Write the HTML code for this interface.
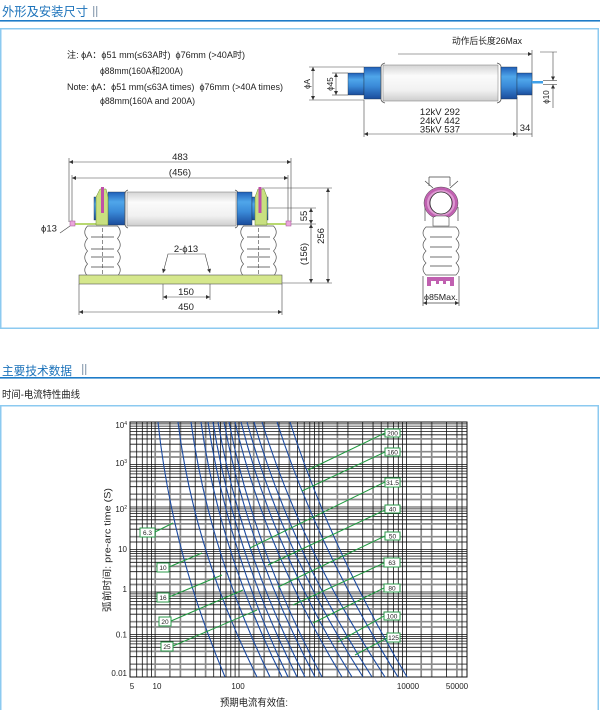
<!DOCTYPE html>
<html><head><meta charset="utf-8"><style>
html,body{margin:0;padding:0;background:#fff;width:600px;height:710px;overflow:hidden}
svg{display:block}
text{font-family:"Liberation Sans","Noto Sans CJK SC",sans-serif;fill:#222}
</style></head><body>
<svg width="600" height="710" viewBox="0 0 600 710" xmlns="http://www.w3.org/2000/svg">
<defs>
<marker id="a" viewBox="0 0 10 10" refX="10" refY="5" markerWidth="7" markerHeight="4" orient="auto-start-reverse" markerUnits="userSpaceOnUse"><path d="M0,0L10,5L0,10z" fill="#333"/></marker>
<linearGradient id="bl" x1="0" y1="0" x2="0" y2="1"><stop offset="0" stop-color="#1f5fb8"/><stop offset=".3" stop-color="#4fa6ea"/><stop offset=".6" stop-color="#3a8ad8"/><stop offset="1" stop-color="#1a4c9c"/></linearGradient>
<linearGradient id="wh" x1="0" y1="0" x2="0" y2="1"><stop offset="0" stop-color="#d4d4d4"/><stop offset=".3" stop-color="#fbfbfb"/><stop offset=".7" stop-color="#f1f1f1"/><stop offset="1" stop-color="#cdcdcd"/></linearGradient>
</defs>

<!-- Header 1 -->
<text x="2" y="16" font-size="12.5" textLength="86" lengthAdjust="spacingAndGlyphs" style="fill:#1b72ba">外形及安装尺寸</text>
<rect x="93" y="6" width="1.3" height="11" fill="#9aaabb"/><rect x="96" y="6" width="1.3" height="11" fill="#9aaabb"/>
<rect x="0" y="20" width="600" height="1.6" fill="#1e7cc8"/>
<rect x="0.75" y="28.75" width="597.5" height="299.5" fill="none" stroke="#8ccaf0" stroke-width="1.5"/>

<!-- Notes -->
<text x="67" y="58" font-size="9" textLength="178" lengthAdjust="spacingAndGlyphs">注: ϕA：ϕ51 mm(≤63A时)&#160;&#160;ϕ76mm (&gt;40A时)</text>
<text x="100" y="74" font-size="9" textLength="83" lengthAdjust="spacingAndGlyphs">ϕ88mm(160A和200A)</text>
<text x="67" y="90" font-size="9" textLength="216" lengthAdjust="spacingAndGlyphs">Note: ϕA：ϕ51 mm(≤63A times)&#160;&#160;ϕ76mm (&gt;40A times)</text>
<text x="100" y="104" font-size="9" textLength="95" lengthAdjust="spacingAndGlyphs">ϕ88mm(160A and 200A)</text>

<!-- Right fuse drawing -->
<g stroke="#444" stroke-width="0.6" fill="none">
<line x1="398" y1="54" x2="532" y2="54" marker-end="url(#a)"/>
<line x1="532" y1="50" x2="532" y2="137"/>
<line x1="364" y1="100" x2="364" y2="137"/>
<line x1="517" y1="97" x2="517" y2="137"/>
<line x1="364" y1="134" x2="517" y2="134" marker-start="url(#a)" marker-end="url(#a)"/>
<line x1="517" y1="134" x2="532" y2="134"/>
<line x1="309" y1="67" x2="364" y2="67"/><line x1="309" y1="100" x2="364" y2="100"/>
<line x1="313" y1="67" x2="313" y2="100" marker-start="url(#a)" marker-end="url(#a)"/>
<line x1="332" y1="73" x2="348" y2="73"/><line x1="332" y1="95" x2="348" y2="95"/>
<line x1="336" y1="73" x2="336" y2="95" marker-start="url(#a)" marker-end="url(#a)"/>
<line x1="543" y1="80.5" x2="557" y2="80.5"/><line x1="543" y1="84.5" x2="557" y2="84.5"/>
<line x1="540" y1="52" x2="557" y2="52"/>
<line x1="553" y1="52" x2="553" y2="80.5" marker-end="url(#a)"/>
<line x1="553" y1="108" x2="553" y2="84.5" marker-end="url(#a)"/>
</g>
<text x="487" y="44" font-size="9" text-anchor="middle" textLength="70" lengthAdjust="spacingAndGlyphs">动作后长度26Max</text>
<rect x="348" y="73" width="16" height="22" fill="url(#bl)" stroke="#234" stroke-width="0.4"/>
<rect x="364" y="67" width="17" height="32" fill="url(#bl)" stroke="#234" stroke-width="0.4"/>
<rect x="383" y="65" width="115" height="36" fill="url(#wh)" stroke="#777" stroke-width="0.5"/>
<path d="M385 63Q381 64 381 67V99Q381 102 385 103M497 63Q501 64 501 67V99Q501 102 497 103" fill="none" stroke="#555" stroke-width="0.8"/>
<rect x="501" y="67" width="16" height="32" fill="url(#bl)" stroke="#234" stroke-width="0.4"/>
<rect x="517" y="73" width="15" height="22" fill="url(#bl)" stroke="#234" stroke-width="0.4"/>
<rect x="532" y="81" width="11" height="2.5" fill="#3fa0e8"/>
<text transform="translate(310,84) rotate(-90)" font-size="8" text-anchor="middle">ϕA</text>
<text transform="translate(333,84) rotate(-90)" font-size="8" text-anchor="middle">ϕ45</text>
<text transform="translate(549,97) rotate(-90)" font-size="8" text-anchor="middle">ϕ10</text>
<text x="440" y="115" font-size="9.5" text-anchor="middle">12kV 292</text>
<text x="440" y="124" font-size="9.5" text-anchor="middle">24kV 442</text>
<text x="440" y="132.5" font-size="9.5" text-anchor="middle">35kV 537</text>
<text x="525" y="131" font-size="9.5" text-anchor="middle">34</text>

<!-- Middle drawing -->
<g stroke="#444" stroke-width="0.6" fill="none">
<line x1="69" y1="162" x2="291" y2="162" marker-start="url(#a)" marker-end="url(#a)"/>
<line x1="72" y1="178" x2="288" y2="178" marker-start="url(#a)" marker-end="url(#a)"/>
<line x1="69" y1="158" x2="69" y2="222"/><line x1="291" y1="158" x2="291" y2="222"/>
<line x1="72" y1="175" x2="72" y2="222"/><line x1="288" y1="175" x2="288" y2="222"/>
<line x1="262" y1="188" x2="332" y2="188"/>
<line x1="268" y1="208" x2="316" y2="208"/>
<line x1="291" y1="224" x2="316" y2="224"/>
<line x1="282" y1="283" x2="332" y2="283"/>
<line x1="311" y1="208" x2="311" y2="224" marker-start="url(#a)" marker-end="url(#a)"/>
<line x1="311" y1="224" x2="311" y2="283" marker-start="url(#a)" marker-end="url(#a)"/>
<line x1="328" y1="188" x2="328" y2="283" marker-start="url(#a)" marker-end="url(#a)"/>
<path d="M163 273L168 254H205L210 273" marker-start="url(#a)" marker-end="url(#a)"/>
<line x1="163" y1="275" x2="163" y2="300"/><line x1="210" y1="275" x2="210" y2="300"/>
<line x1="163" y1="297" x2="210" y2="297" marker-start="url(#a)" marker-end="url(#a)"/>
<line x1="79" y1="284" x2="79" y2="315"/><line x1="282" y1="284" x2="282" y2="315"/>
<line x1="79" y1="312" x2="282" y2="312" marker-start="url(#a)" marker-end="url(#a)"/>
<path d="M60 233L70 226"/>
</g>
<text x="180" y="160" font-size="9.5" text-anchor="middle">483</text>
<text x="180" y="175.5" font-size="9.5" text-anchor="middle">(456)</text>
<text x="41" y="231.5" font-size="9.5">ϕ13</text>
<text x="186" y="252" font-size="9.5" text-anchor="middle">2-ϕ13</text>
<text x="186" y="295" font-size="9.5" text-anchor="middle">150</text>
<text x="186" y="310" font-size="9.5" text-anchor="middle">450</text>
<text transform="translate(307,216) rotate(-90)" font-size="9.5" text-anchor="middle">55</text>
<text transform="translate(307,254) rotate(-90)" font-size="9.5" text-anchor="middle">(156)</text>
<text transform="translate(324,236) rotate(-90)" font-size="9.5" text-anchor="middle">256</text>

<!-- mounting bars -->
<rect x="70" y="223" width="36" height="2" fill="#b8d870"/>
<rect x="256" y="223" width="35" height="2" fill="#b8d870"/>
<rect x="70" y="221" width="5" height="5" fill="#eaa6dc" stroke="#a05090" stroke-width="0.5"/>
<rect x="286" y="221" width="5" height="5" fill="#eaa6dc" stroke="#a05090" stroke-width="0.5"/>

<!-- insulators -->
<g fill="#fff" stroke="#555" stroke-width="0.7">
<path d="M87.5 226Q82 232 87.5 238.5Q82 245 87.5 251Q82 257.5 87.5 264Q82 270 87.5 276H117.5Q123 270 117.5 264Q123 257.5 117.5 251Q123 245 117.5 238.5Q123 232 117.5 226Z"/>
<path d="M243.5 226Q238 232 243.5 238.5Q238 245 243.5 251Q238 257.5 243.5 264Q238 270 243.5 276H273.5Q279 270 273.5 264Q279 257.5 273.5 251Q279 245 273.5 238.5Q279 232 273.5 226Z"/>
</g>
<g stroke="#444" stroke-width="0.8">
<path d="M91 237H114M91 249H114M91 257H114M91 267H114M247 237H270M247 249H270M247 257H270M247 267H270"/>
<path d="M102.5 228V276M258.5 228V276" stroke-dasharray="4 2" stroke-width="0.6"/>
</g>
<rect x="79" y="275" width="203" height="9" fill="#d5e78c" stroke="#555" stroke-width="0.6"/>

<!-- middle fuse -->
<rect x="94" y="197" width="14" height="23" fill="url(#bl)" stroke="#234" stroke-width="0.4"/>
<rect x="108" y="192" width="17" height="33" fill="url(#bl)" stroke="#234" stroke-width="0.4"/>
<rect x="127" y="192" width="109" height="34" fill="url(#wh)" stroke="#777" stroke-width="0.5"/>
<path d="M128 190Q125 191 125 194V224Q125 227 128 228M235 190Q238 191 238 194V224Q238 227 235 228" fill="none" stroke="#555" stroke-width="0.8"/>
<rect x="237" y="192" width="15" height="33" fill="url(#bl)" stroke="#234" stroke-width="0.4"/>
<rect x="252" y="197" width="16" height="23" fill="url(#bl)" stroke="#234" stroke-width="0.4"/>
<path d="M96 225V197L100 189H106L108 197V225Z" fill="#c8e080" stroke="#6a8a30" stroke-width="0.5"/>
<path d="M255 225V197L258 189H264L267 197V225Z" fill="#c8e080" stroke="#6a8a30" stroke-width="0.5"/>
<rect x="101" y="187" width="3" height="26" fill="#c050a8"/>
<rect x="258.5" y="187" width="3" height="26" fill="#c050a8"/>

<!-- right small drawing -->
<g stroke="#444" stroke-width="0.7" fill="none">
<path d="M429 177H450M429 177V186M450 177V186M425 181L433 188M458 181L450 188M425 207V221M458 207V221"/>
<line x1="423" y1="276" x2="423" y2="306"/><line x1="459" y1="276" x2="459" y2="306"/>
<line x1="423" y1="303" x2="459" y2="303" marker-start="url(#a)" marker-end="url(#a)"/>
</g>
<ellipse cx="441" cy="203" rx="17" ry="16" fill="#c060b0" stroke="#555" stroke-width="0.5"/>
<ellipse cx="441" cy="203" rx="13" ry="12" fill="none" stroke="#dd9ad2" stroke-width="2"/>
<circle cx="441" cy="203" r="11" fill="#fff" stroke="#333" stroke-width="0.8"/>
<path d="M433 218Q433 217 436 216H446Q449 217 449 218V226H433Z" fill="#fff" stroke="#444" stroke-width="0.6"/>
<path d="M426 227Q420 233 426 239Q420 245 426 251Q420 257 426 263Q420 269 426 275H456Q462 269 456 263Q462 257 456 251Q462 245 456 239Q462 233 456 227Z" fill="#fff" stroke="#555" stroke-width="0.7"/>
<path d="M430 237H452M430 247H452M430 257H452M430 266H452" stroke="#444" stroke-width="0.8"/>
<path d="M427 277H454V286H450V281H446V284H443V281H439V284H436V281H431V286H427Z" fill="#c060b0"/>
<text x="441" y="300" font-size="8.5" text-anchor="middle" textLength="34" lengthAdjust="spacingAndGlyphs">ϕ85Max.</text>

<!-- Header 2 -->
<text x="2" y="375" font-size="12" textLength="70" lengthAdjust="spacingAndGlyphs" style="fill:#1b72ba">主要技术数据</text>
<rect x="82" y="364" width="1.3" height="11" fill="#9aaabb"/><rect x="85" y="364" width="1.3" height="11" fill="#9aaabb"/>
<rect x="0" y="377" width="600" height="1.6" fill="#1e7cc8"/>
<text x="2" y="398" font-size="10" textLength="78" lengthAdjust="spacingAndGlyphs">时间-电流特性曲线</text>
<rect x="0.75" y="405.75" width="597.5" height="320" fill="none" stroke="#8ccaf0" stroke-width="1.5"/>

<!-- Chart grid -->
<g fill="none">
<path stroke="#8a8a8a" stroke-width="1.7" d="M155.2 422V677M169.9 422V677M180.4 422V677M205.6 422V677M253.7 422V677M264.2 422V677M289.4 422V677M337.4 422V677M347.9 422V677M373.1 422V677M421.2 422V677M431.7 422V677M456.9 422V677
M130 669.5H467M130 664.2H467M130 651.4H467M130 627H467M130 621.7H467M130 608.9H467M130 584.5H467M130 579.2H467M130 566.4H467M130 542H467M130 536.7H467M130 523.9H467M130 499.5H467M130 494.2H467M130 481.4H467M130 457H467M130 451.7H467M130 438.9H467"/>
<path stroke="#111" stroke-width="0.8" d="M136.7 422V677M142.3 422V677M147.1 422V677M151.4 422V677M195.2 422V677M213.7 422V677M220.4 422V677M226 422V677M230.8 422V677M235.1 422V677M239 422V677M279 422V677M297.5 422V677M304.2 422V677M309.8 422V677M314.6 422V677M318.9 422V677M322.7 422V677M362.7 422V677M381.2 422V677M387.9 422V677M393.5 422V677M398.3 422V677M402.6 422V677M406.5 422V677M446.5 422V677M462 422V677
M130 656.7H467M130 647.3H467M130 643.9H467M130 641.1H467M130 638.6H467M130 636.4H467M130 634.5H467
M130 614.2H467M130 604.8H467M130 601.4H467M130 598.6H467M130 596.1H467M130 593.9H467M130 592H467
M130 571.7H467M130 562.3H467M130 558.9H467M130 556.1H467M130 553.6H467M130 551.4H467M130 549.5H467
M130 529.2H467M130 519.8H467M130 516.4H467M130 513.6H467M130 511.1H467M130 508.9H467M130 507H467
M130 486.7H467M130 477.3H467M130 473.9H467M130 471.1H467M130 468.6H467M130 466.4H467M130 464.5H467
M130 444.2H467M130 434.8H467M130 431.4H467M130 428.6H467M130 426.1H467M130 423.9H467"/>
<rect x="130" y="422" width="337" height="255" stroke="#111" stroke-width="1"/>
</g>

<!-- Blue curves -->
<g fill="none" stroke="#1b4aa0" stroke-width="1.1">
<path d="M158 422Q171.4 549.5 225 677"/>
<path d="M178 422Q193.8 549.5 257 677"/>
<path d="M191 422Q208.4 549.5 270 677"/>
<path d="M201 422Q218.8 549.5 282 677"/>
<path d="M208 422Q227.2 549.5 288 677"/>
<path d="M213 422Q233.2 549.5 297 677"/>
<path d="M218 422Q239.8 549.5 305 677"/>
<path d="M224 422Q247.7 549.5 315 677"/>
<path d="M229 422Q254.1 549.5 322 677"/>
<path d="M235 422Q265 549.5 342 677"/>
<path d="M241 422Q273.2 549.5 352 677"/>
<path d="M247 422Q281.8 549.5 363 677"/>
<path d="M254 422Q290.6 549.5 372 677"/>
<path d="M262 422Q301.4 549.5 385 677"/>
<path d="M277 422Q318.1 549.5 398 677"/>
<path d="M290 422Q331 549.5 407 677"/>
</g>

<!-- Green lines -->
<g stroke="#1f9a3f" stroke-width="1" fill="none">
<path d="M155 532L173 523M169 567L202 553M169 597L222 575M171 621L243 590M173 646L257 610
M385 433L308 470M385 452L302 491M385 482L250 548M385 510L268 565M385 536L278 587M384 563L293 605M384 588L313 623M384 616L338 642M387 638L355 655"/>
</g>
<g fill="#fff" stroke="#2a9a4a" stroke-width="1">
<rect x="140" y="528" width="15" height="9"/>
<rect x="157" y="563" width="12" height="9"/>
<rect x="157" y="593" width="12" height="9"/>
<rect x="159" y="617" width="12" height="9"/>
<rect x="161" y="642" width="12" height="9"/>
<rect x="385" y="429" width="15" height="8"/>
<rect x="385" y="448" width="15" height="8"/>
<rect x="385" y="478" width="15" height="9"/>
<rect x="385" y="505" width="15" height="8"/>
<rect x="385" y="532" width="15" height="8"/>
<rect x="384" y="558" width="16" height="9"/>
<rect x="384" y="584" width="16" height="8"/>
<rect x="384" y="612" width="16" height="8"/>
<rect x="387" y="633" width="13" height="9"/>
</g>
<g font-size="6.5" text-anchor="middle">
<text x="147.5" y="535.2">6.3</text>
<text x="163" y="570.2">10</text>
<text x="163" y="600.2">16</text>
<text x="165" y="624.2">20</text>
<text x="167" y="649.2">25</text>
<text x="392.5" y="435.7">200</text>
<text x="392.5" y="454.7">160</text>
<text x="392.5" y="485.2">31.5</text>
<text x="392.5" y="511.7">40</text>
<text x="392.5" y="538.7">50</text>
<text x="392" y="565.2">63</text>
<text x="392" y="590.7">80</text>
<text x="392" y="618.7">100</text>
<text x="393.5" y="640.2">125</text>
</g>

<!-- Axis labels -->
<g font-size="8" text-anchor="end">
<text x="127" y="428">10<tspan font-size="5" dy="-3">4</tspan></text>
<text x="127" y="466">10<tspan font-size="5" dy="-3">3</tspan></text>
<text x="127" y="512">10<tspan font-size="5" dy="-3">2</tspan></text>
<text x="127" y="552">10</text>
<text x="127" y="592">1</text>
<text x="127" y="637.5">0.1</text>
<text x="127" y="676">0.01</text>
</g>
<g font-size="8" text-anchor="middle">
<text x="132" y="689">5</text>
<text x="157" y="689">10</text>
<text x="238" y="689">100</text>
<text x="408" y="689">10000</text>
<text x="457" y="689">50000</text>
</g>
<text transform="translate(110.5,550) rotate(-90)" font-size="9.5" text-anchor="middle" textLength="124" lengthAdjust="spacingAndGlyphs">弧前时间: pre-arc time (S)</text>
<text x="254" y="706" font-size="10" text-anchor="middle" textLength="68" lengthAdjust="spacingAndGlyphs">预期电流有效值:</text>
</svg>
</body></html>
